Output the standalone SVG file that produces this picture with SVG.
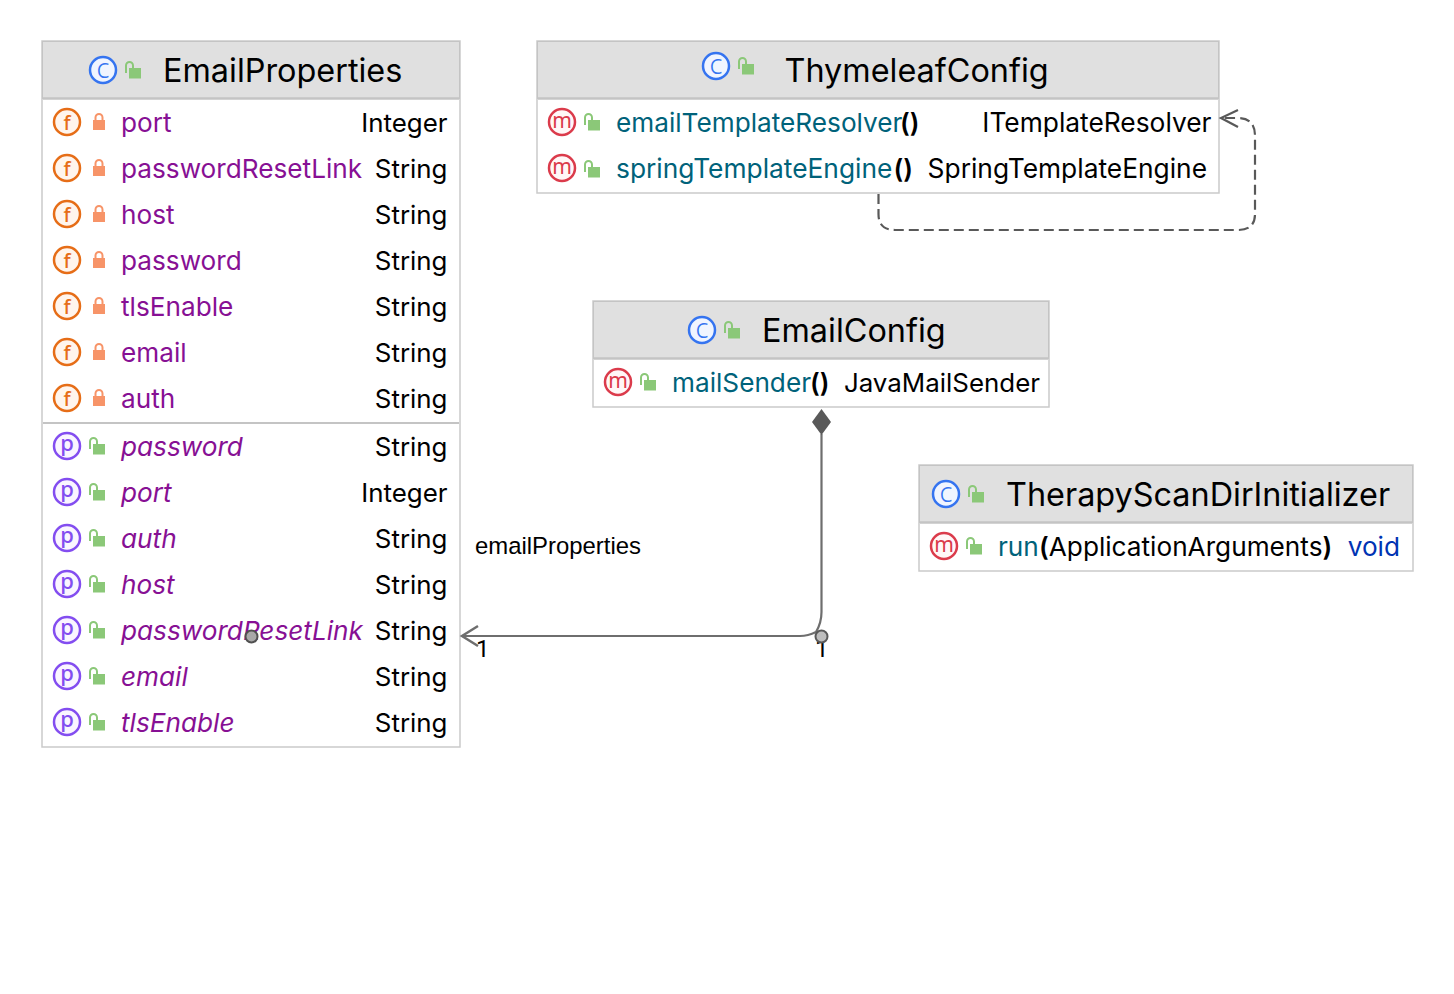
<svg xmlns="http://www.w3.org/2000/svg" width="1454" height="994" viewBox="0 0 1454 994">
<style>
text{font-family:"Inter","Liberation Sans",sans-serif;font-size:26.2px;fill:#000}
.box{fill:#fff;stroke:#cacaca;stroke-width:1.5}
.head{fill:#e0e0e0;stroke:#c4c4c4;stroke-width:1}
.sep{stroke:#c4c4c4;stroke-width:2.5;fill:none}
.sep2{stroke:#c4c4c4;stroke-width:2;fill:none}
.title{font-size:32.4px}
.field{fill:#871094}
.prop{fill:#871094;font-style:italic}
.meth{fill:#00627a}
.end{text-anchor:end}
.type{font-size:25.9px}
.type2{font-size:26.35px}
.kw{fill:#0033b3}
.par{font-weight:600}
.lab{font-family:"Liberation Sans",Arial,sans-serif;font-size:23.9px}
.one{font-family:"Roboto","Liberation Sans",sans-serif;font-size:24px}
.ltr{font-family:"Noto Sans","Liberation Sans",sans-serif;text-anchor:middle}
.line{fill:none;stroke:#6e6e6e;stroke-width:2.2}
.dash{fill:none;stroke:#595959;stroke-width:2.2;stroke-dasharray:10 5}
.arrow{fill:none;stroke:#6e6e6e;stroke-width:2.5}
</style>
<defs>
<g id="ic-c"><circle r="13" fill="#f0f5ff" stroke="#3574f0" stroke-width="2.5"/><text class="ltr" y="7.500" style="font-size:27px;font-weight:300;fill:#3574f0">c</text></g>
<g id="ic-f"><circle r="13" fill="#fff5ed" stroke="#e66d17" stroke-width="2.5"/><text class="ltr" y="7.500" style="font-size:20px;font-weight:500;fill:#e66d17">f</text></g>
<g id="ic-m"><circle r="13" fill="#fff7f7" stroke="#db3b4b" stroke-width="2.5"/><text class="ltr" y="5.500" style="font-size:21px;fill:#db3b4b">m</text></g>
<g id="ic-p"><circle r="13" fill="#faf5ff" stroke="#834df0" stroke-width="2.500"/><text class="ltr" y="4.500" style="font-size:22px;font-weight:500;fill:#834df0">p</text></g>
<g id="lock"><path d="M-3.500 -1V-3.500a3.500 3.500 0 0 1 7 0V-1" fill="none" stroke="#f79468" stroke-width="2"/><rect x="-6" y="-1" width="12" height="10" fill="#f79468"/></g>
<g id="open"><path d="M-7 3V-4.500a3.500 3.500 0 0 1 7 0V-2" fill="none" stroke="#8bc878" stroke-width="2"/><rect x="-4" y="-2" width="12" height="10.500" fill="#8bc878"/></g>
</defs>

<g id="EmailProperties">
<rect class="box" x="42" y="41" width="418" height="706"/>
<rect class="head" x="42.500" y="41.500" width="417" height="57"/>
<path class="sep" d="M43 98.500H459"/>
<path class="sep2" d="M43 423H459"/>
<use href="#ic-c" x="103" y="70"/><use href="#open" x="133" y="70"/>
<text class="title" x="163" y="82">EmailProperties</text>
<use href="#ic-f" x="67" y="122"/><use href="#lock" x="99" y="121"/><text class="field" x="121" y="132">port</text><text class="end type" x="447.500" y="132">Integer</text>
<use href="#ic-f" x="67" y="168"/><use href="#lock" x="99" y="167"/><text class="field" x="121" y="178">passwordResetLink</text><text class="end type" x="447.500" y="178">String</text>
<use href="#ic-f" x="67" y="214"/><use href="#lock" x="99" y="213"/><text class="field" x="121" y="224">host</text><text class="end type" x="447.500" y="224">String</text>
<use href="#ic-f" x="67" y="260"/><use href="#lock" x="99" y="259"/><text class="field" x="121" y="270">password</text><text class="end type" x="447.500" y="270">String</text>
<use href="#ic-f" x="67" y="306"/><use href="#lock" x="99" y="305"/><text class="field" x="121" y="316">tlsEnable</text><text class="end type" x="447.500" y="316">String</text>
<use href="#ic-f" x="67" y="352"/><use href="#lock" x="99" y="351"/><text class="field" x="121" y="362">email</text><text class="end type" x="447.500" y="362">String</text>
<use href="#ic-f" x="67" y="398"/><use href="#lock" x="99" y="397"/><text class="field" x="121" y="408">auth</text><text class="end type" x="447.500" y="408">String</text>
<use href="#ic-p" x="67" y="446"/><use href="#open" x="97" y="446"/><text class="prop" x="121" y="456">password</text><text class="end type" x="447.500" y="456">String</text>
<use href="#ic-p" x="67" y="492"/><use href="#open" x="97" y="492"/><text class="prop" x="121" y="502">port</text><text class="end type" x="447.500" y="502">Integer</text>
<use href="#ic-p" x="67" y="538"/><use href="#open" x="97" y="538"/><text class="prop" x="121" y="548">auth</text><text class="end type" x="447.500" y="548">String</text>
<use href="#ic-p" x="67" y="584"/><use href="#open" x="97" y="584"/><text class="prop" x="121" y="594">host</text><text class="end type" x="447.500" y="594">String</text>
<use href="#ic-p" x="67" y="630"/><use href="#open" x="97" y="630"/><text class="prop" x="121" y="640">passwordResetLink</text><text class="end type" x="447.500" y="640">String</text>
<use href="#ic-p" x="67" y="676"/><use href="#open" x="97" y="676"/><text class="prop" x="121" y="686">email</text><text class="end type" x="447.500" y="686">String</text>
<use href="#ic-p" x="67" y="722"/><use href="#open" x="97" y="722"/><text class="prop" x="121" y="732">tlsEnable</text><text class="end type" x="447.500" y="732">String</text>
</g>

<g id="ThymeleafConfig">
<rect class="box" x="537" y="41" width="682" height="152"/>
<rect class="head" x="537.500" y="41.500" width="681" height="57"/>
<path class="sep" d="M538 98.500H1218"/>
<use href="#ic-c" x="716" y="66"/><use href="#open" x="746" y="66"/>
<text class="title" x="784.500" y="82">ThymeleafConfig</text>
<use href="#ic-m" x="562" y="122"/><use href="#open" x="592" y="122"/>
<text class="meth" x="616" y="132">emailTemplateResolver</text><text class="par" x="900" y="132">()</text><text class="end type2" x="1211.500" y="132">ITemplateResolver</text>
<use href="#ic-m" x="562" y="168"/><use href="#open" x="592" y="169"/>
<text class="meth type2" x="616" y="178">springTemplateEngine</text><text class="par" x="893.500" y="178">()</text><text class="end type2" x="1207" y="178">SpringTemplateEngine</text>
</g>

<g id="EmailConfig">
<rect class="box" x="593" y="301" width="456" height="106"/>
<rect class="head" x="593.500" y="301.500" width="455" height="57"/>
<path class="sep" d="M594 358.500H1048"/>
<use href="#ic-c" x="702" y="330"/><use href="#open" x="732" y="330"/>
<text class="title" x="762" y="342">EmailConfig</text>
<use href="#ic-m" x="618" y="382"/><use href="#open" x="648" y="382"/>
<text class="meth" x="672" y="392">mailSender</text><text class="par" x="810" y="392">()</text><text class="end type" x="1040" y="392">JavaMailSender</text>
</g>

<g id="TherapyScanDirInitializer">
<rect class="box" x="919" y="465" width="494" height="106"/>
<rect class="head" x="919.500" y="465.500" width="493" height="57"/>
<path class="sep" d="M920 522.500H1412"/>
<use href="#ic-c" x="946" y="494"/><use href="#open" x="976" y="494"/>
<text class="title" x="1006" y="506">TherapyScanDirInitializer</text>
<use href="#ic-m" x="944" y="546"/><use href="#open" x="974" y="546"/>
<text class="meth" x="998" y="556">run</text><text x="1039" y="556"><tspan class="par">(</tspan>ApplicationArguments<tspan class="par">)</tspan></text><text class="kw end" x="1400" y="556">void</text>
</g>

<g id="labels">
<text class="lab" x="475" y="554">emailProperties</text>
<text class="one" x="476" y="657">1</text>
<text class="one" x="815" y="657">1</text>
</g>

<g id="connectors">
<path class="line" d="M821.500 434V612C821.500 620 819 627 816 632C812 634 806 636 800 636H462"/>
<path class="arrow" d="M478 626L462 636L478 646"/>
<path d="M821.500 409L831 422L821.500 435L812 422Z" fill="#595959"/>
<path class="dash" d="M878.500 194V214Q878.500 230 895 230H1238Q1255 230 1255 214V136Q1255 118 1238 118H1222"/>
<path class="dash" style="stroke-dasharray:none" d="M1238 110L1221 118L1238 127"/>
<circle cx="251.500" cy="636.500" r="6" fill="#a8a8a8" stroke="#505050" stroke-width="2"/>
<circle cx="821.500" cy="636.500" r="6" fill="#bdbdbd" stroke="#595959" stroke-width="2"/>
</g>
</svg>
